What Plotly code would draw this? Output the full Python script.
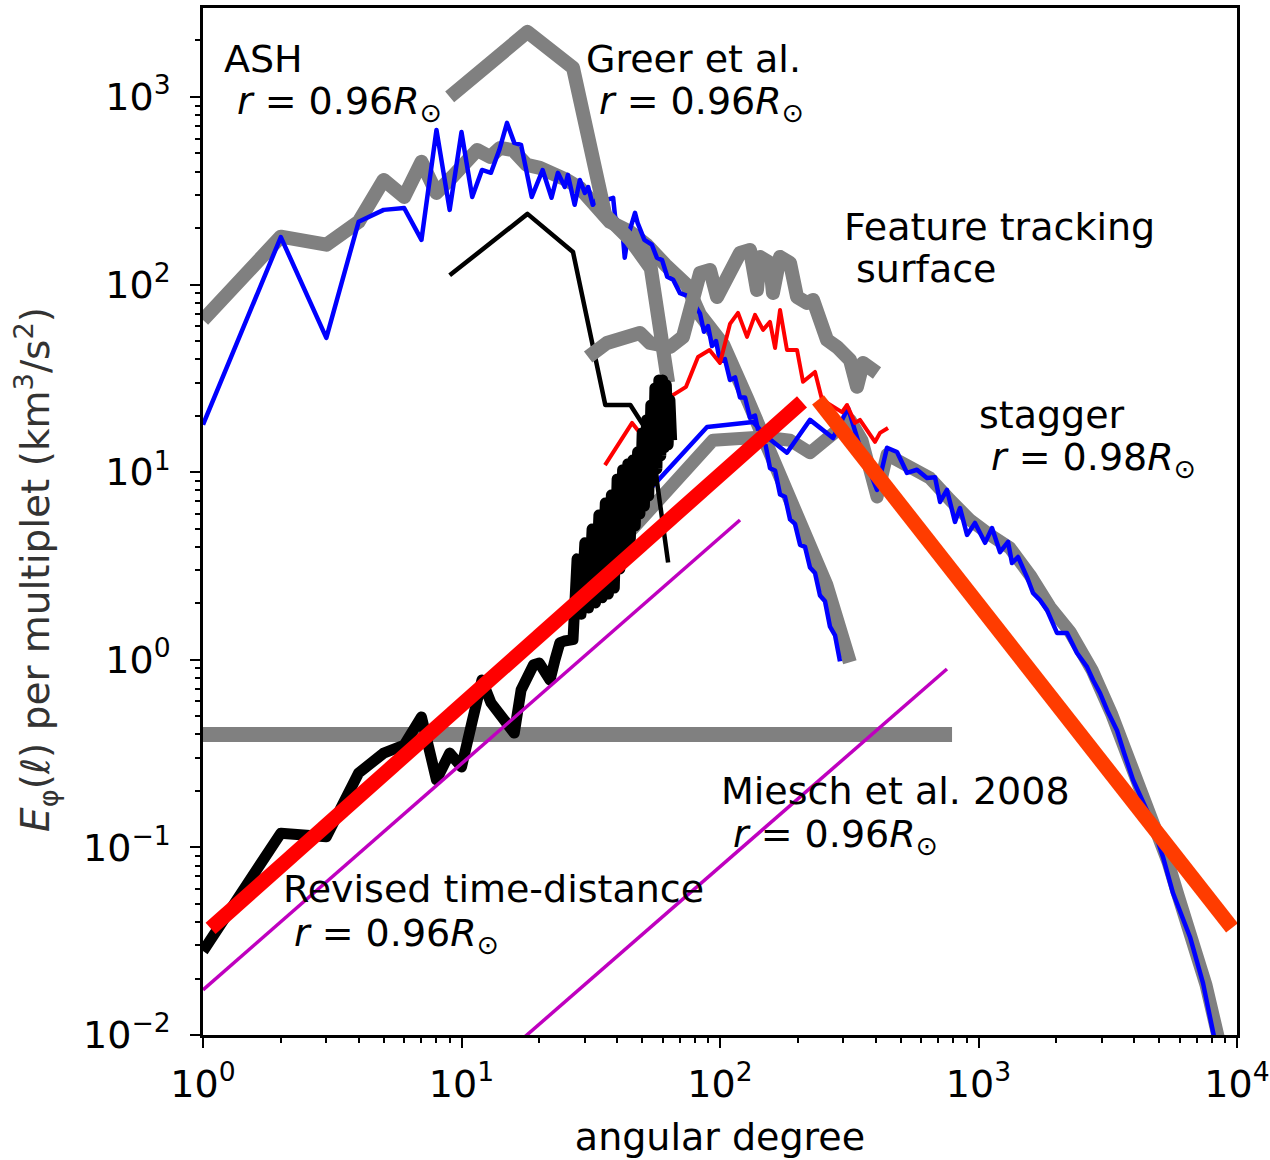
import plotly.graph_objects as go

# ---------------- data ----------------
# ASH simulation, r = 0.96 Rsun (raw spectrum and smoothed version)
ash_l = [1, 2, 3, 4, 5, 6, 7, 8, 9, 10, 11, 12, 13, 14, 15, 16, 17,
         18.7, 20.6, 22.3, 23.6, 25.1, 25.8, 27.4, 28.7, 30, 30.9, 32.2, 34.3, 36.5,
         38.6, 39.3, 41, 42, 42.8, 44, 46.9, 48, 51, 54.5, 57, 59.7, 62.5, 65.9, 70, 76.6,
         83.7, 86.7, 89.9, 93.1, 96.5, 100, 104.5, 109.3, 114.3, 119.5, 125, 130.6,
         136.6, 142.8, 149.3, 156.1, 163.3, 170.7, 178.4, 186.6, 195, 204, 213.2,
         222.9, 233.1, 243.7, 254.8, 266.4, 278.6, 291.2]
ash_E = [17.9, 179, 52, 216, 250, 256, 173, 667, 250, 650, 293, 408, 394, 521, 727, 569, 555,
         293, 408, 290, 394, 331, 384, 266, 361, 308, 331, 266, 300, 283,
         290, 229, 208, 188, 139, 180, 241, 213, 173, 163, 139, 135, 110, 106, 90, 86,
         70, 56, 60, 47, 50, 39, 40, 31, 32, 25, 25, 19.5,
         20, 15, 14.5, 10.5, 10.2, 7.6, 7.4, 5.6, 5.3, 4.1, 4.0,
         3.1, 2.9, 2.2, 2.05, 1.5, 1.35, 0.98]
ash_smooth_l = [1, 2, 3, 4, 5, 6, 7, 8, 9.28, 10.5, 11.5, 12.9, 14.1, 15.8, 17.9, 20.1,
                22.5, 25.5, 28.7, 32.2, 37.5, 44.8, 52, 61.6, 74.3, 83.7, 103, 127, 152,
                181, 217, 258, 318]
ash_smooth_E = [64.7, 180, 163, 216, 361, 293, 451, 308, 379, 445, 521, 479, 535, 521, 434, 419,
                398, 361, 327, 266, 216, 191, 163, 127, 99.5, 69, 47.7, 24.9, 14,
                8.0, 4.5, 2.5, 0.97]

# Greer et al., r = 0.96 Rsun (thick grey) and the thin black companion curve
greer_l = [9, 18, 27, 36, 45, 54, 63]
greer_E = [1000, 2220, 1430, 235, 173, 122, 30]
greer_thin_E = [112, 238, 149, 22.8, 22.8, 15.4, 3.3]

# stagger simulation, r = 0.98 Rsun
stag_l = [44.1, 89.1, 134.2, 152, 181.6, 222.9, 273.6, 312.7, 348, 405, 442.6, 484, 529,
          578, 632, 679, 710, 755, 811, 848, 903, 969, 1060, 1128, 1211, 1301, 1348, 1422,
          1540, 1625, 1729, 1841, 2012, 2200, 2404, 2628, 2773, 2951, 3141, 3434, 3656,
          3961, 4607, 5172, 5654, 6579, 7388, 8147, 8400]
stag_E = [6.06, 17.4, 18.5, 15.4, 12.7, 19.0, 15.2, 22.0, 13.6, 8.04, 13.5, 12.8, 9.9,
          10.3, 9.3, 9.4, 6.94, 8.04, 5.43, 6.44, 4.63, 5.36, 4.2, 5.04, 3.75, 4.25, 3.28, 3.53,
          2.76, 2.27, 2.08, 1.84, 1.39, 1.39, 1.087, 0.916, 0.78, 0.665, 0.54, 0.42, 0.319,
          0.229, 0.145, 0.0889, 0.0571, 0.0333, 0.0189, 0.01, 0.008]
stag_smooth_l = [43.7, 70, 94, 146.7, 186.6, 222.9, 259.4, 318.4, 354.2, 405, 442.6, 529,
                 649, 776, 927, 1108, 1324, 1582, 1890, 2259, 2748, 3284, 3856, 4691, 5408,
                 5913, 6757, 7586, 8511]
stag_smooth_E = [4.63, 9.43, 14.8, 15.4, 14.8, 12.7, 15.4, 19.0, 14.8, 7.38, 12.4, 10.9,
                 9.3, 7.11, 5.56, 4.63, 3.94, 2.83, 1.91, 1.41, 0.883, 0.508, 0.285, 0.149,
                 0.0836, 0.0557, 0.0321, 0.0185, 0.0094]

# feature tracking at the surface (grey) and its red companion curve
ft_l = [30.9, 36.5, 49.0, 53.6, 64.1, 71.9, 83.7, 91.5, 97.4, 106.4, 119.5, 130.6, 139,
        142.8, 156.1, 160.3, 170.7, 186.6, 198.6, 217.1, 229, 243.7, 259.4, 283.6, 318.4,
        338.8, 357.5, 405]
ft_E = [41.1, 48.8, 55.2, 48.8, 46.5, 52.6, 115.3, 119.6, 85.9, 105.8, 147.4, 152.9, 93.6,
        140.4, 130.3, 90.2, 140.4, 130.3, 85.9, 79.8, 82.8, 64.8, 50.7, 46.5, 39.6,
        28.5, 38.2, 33.8]
ftr_l = [35.9, 45.7, 54.1, 64.1, 73.9, 82.2, 91.1, 100, 109.3, 117.4, 127.2, 136.6, 146.7,
         156.1, 163.3, 170.7, 181.6, 198.6, 209.5, 233.1, 248.1, 273.6, 296.5, 310, 332.9,
         347.9, 370.5, 397.8, 415.9, 446.6]
ftr_E = [10.9, 18.3, 13.6, 25.2, 28.5, 41.1, 44.8, 38.2, 61.7, 70.6, 52.6, 68.9, 57.3,
         63.2, 45.9, 73.2, 44.8, 44.8, 30.3, 34.2, 24.3, 22.2, 20.9, 22.8, 18.3,
         19.0, 16.8, 14.5, 16.2, 17.2]

# revised time-distance, r = 0.96 Rsun
td_l = list(range(1, 66))
td_E = [0.028, 0.119, 0.114, 0.249, 0.318, 0.351, 0.496, 0.229, 0.318, 0.268,
        0.47, 0.78, 0.59, 0.52, 0.46, 0.407, 0.69, 0.80, 0.94, 0.96,
        0.86, 0.78, 1.0, 1.23, 1.26, 1.28, 1.28, 3.45, 1.75, 4.2,
        1.89, 4.98, 2.01, 5.91, 2.14, 6.85, 2.24, 7.56, 2.41, 9.2,
        3.05, 10.3, 3.66, 11.1, 4.41, 11.6, 5.17, 12.8, 5.99, 16.2,
        6.6, 19.0, 7.47, 22.8, 8.98, 28.1, 10.4, 31.0, 12.2, 31.0,
        13.5, 29.2, 14.0, 24.3, 14.8]

# power-law fits
fit_lo_l = [1.07, 207.6]
fit_lo_E = [0.037, 23.7]
fit_hi_l = [239.4, 9565]
fit_hi_E = [24.3, 0.0372]

# Miesch et al. 2008 reference slopes and the flat level
m1_l = [1, 119.5]
m1_E = [0.0174, 5.56]
m2_l = [10, 755]
m2_E = [0.00497, 0.893]
flat_l = [1, 790]
flat_E = [0.4, 0.4]

# axis ticks
x_ticks = [1, 10, 100, 1000, 10000]
x_ticktext = ["10<sup>0</sup>", "10<sup>1</sup>", "10<sup>2</sup>", "10<sup>3</sup>", "10<sup>4</sup>"]
y_ticks = [0.01, 0.1, 1, 10, 100, 1000]
y_ticktext = ["10<sup>\u22122</sup>", "10<sup>\u22121</sup>", "10<sup>0</sup>",
              "10<sup>1</sup>", "10<sup>2</sup>", "10<sup>3</sup>"]

# ---------------- figure ----------------
GRAY = "#808080"
BLUE = "#0000ff"
RED = "#ff0000"
ORANGE = "#ff3c00"
MAGENTA = "#bf00bf"

fig = go.Figure()


def add_line(x, y, color, width):
    fig.add_trace(go.Scatter(x=x, y=y, mode="lines", showlegend=False, hoverinfo="skip",
                             line=dict(color=color, width=width)))


add_line(ash_smooth_l, ash_smooth_E, GRAY, 14)
add_line(ash_l, ash_E, BLUE, 4.5)
add_line(stag_smooth_l, stag_smooth_E, GRAY, 13)
add_line(stag_l, stag_E, BLUE, 4.5)
add_line(greer_l, greer_E, GRAY, 14)
add_line(greer_l, greer_thin_E, "black", 4.5)
add_line(ft_l, ft_E, GRAY, 14)
add_line(ftr_l, ftr_E, RED, 4)
add_line(flat_l, flat_E, GRAY, 15)
add_line(td_l, td_E, "black", 11)
add_line(m1_l, m1_E, MAGENTA, 3.5)
add_line(m2_l, m2_E, MAGENTA, 3.5)
add_line(fit_lo_l, fit_lo_E, RED, 15)
add_line(fit_hi_l, fit_hi_E, ORANGE, 15)

FONT = "DejaVu Sans"
TXT = 38

# plot-area pixel geometry used to place the text labels
L, R, T, B = 203, 1237, 8, 1035


def px(x):
    return (x - L) / (R - L)


def py(y):
    return (B - y) / (B - T)


rsun = "<i>r</i> = {}<i>R</i><sub>\u2299</sub>"
labels = [
    ("ASH", 223, 59),
    (rsun.format("0.96"), 236, 104),
    ("Greer et al.", 585, 59),
    (rsun.format("0.96"), 598, 104),
    ("Feature tracking", 843, 227),
    ("surface", 855, 269),
    ("stagger", 978, 415),
    (rsun.format("0.98"), 990, 460),
    ("Miesch et al. 2008", 720, 791),
    (rsun.format("0.96"), 732, 836),
    ("Revised time-distance", 282, 889),
    (rsun.format("0.96"), 293, 935),
]
for text, x, y in labels:
    fig.add_annotation(text=text, xref="paper", yref="paper", x=px(x), y=py(y),
                       xanchor="left", yanchor="middle", showarrow=False, borderpad=0,
                       font=dict(family=FONT, size=TXT, color="black"))

# y-axis title
fig.add_annotation(text="<i>E</i><sub>\u03c6</sub>(<i>\u2113</i>) per multiplet (km<sup>3</sup>/s<sup>2</sup>)",
                   xref="paper", yref="paper", x=px(36), y=py(570), textangle=-90,
                   xanchor="center", yanchor="middle", showarrow=False,
                   font=dict(family=FONT, size=39, color="#333333"))

x_minor = [m * 10 ** k for k in range(0, 4) for m in range(2, 10)]
y_minor = [m * 10.0 ** k for k in range(-2, 4) for m in range(2, 10)]

axis_common = dict(type="log", showgrid=False, zeroline=False, showline=True, mirror=True,
                   automargin=False,
                   linecolor="black", linewidth=2.5, ticks="outside", ticklen=10,
                   tickwidth=2, tickcolor="black",
                   tickfont=dict(family=FONT, size=38, color="black"))

fig.update_layout(
    width=1270, height=1160,
    margin=dict(l=L, r=1270 - R, t=T, b=1160 - B),
    paper_bgcolor="white", plot_bgcolor="white",
    xaxis=dict(range=[0, 4], tickvals=x_ticks, ticktext=x_ticktext, ticklabelstandoff=4,
               minor=dict(tickvals=x_minor, ticks="outside", ticklen=5, tickwidth=1.5,
                          tickcolor="black"),
               title=dict(text="angular degree", font=dict(family=FONT, size=TXT, color="black"),
                          standoff=19),
               **axis_common),
    yaxis=dict(range=[-2, 3.474], tickvals=y_ticks, ticktext=y_ticktext, ticklabelstandoff=12,
               minor=dict(tickvals=y_minor, ticks="outside", ticklen=5, tickwidth=1.5,
                          tickcolor="black"),
               **axis_common),
)

# rounded joins on the data lines
round_joins = ("var s=document.createElement('style');"
               "s.innerHTML='.scatterlayer .js-line{stroke-linejoin:round !important;}';"
               "document.head.appendChild(s);")

fig.write_html("out.html", post_script=round_joins)
